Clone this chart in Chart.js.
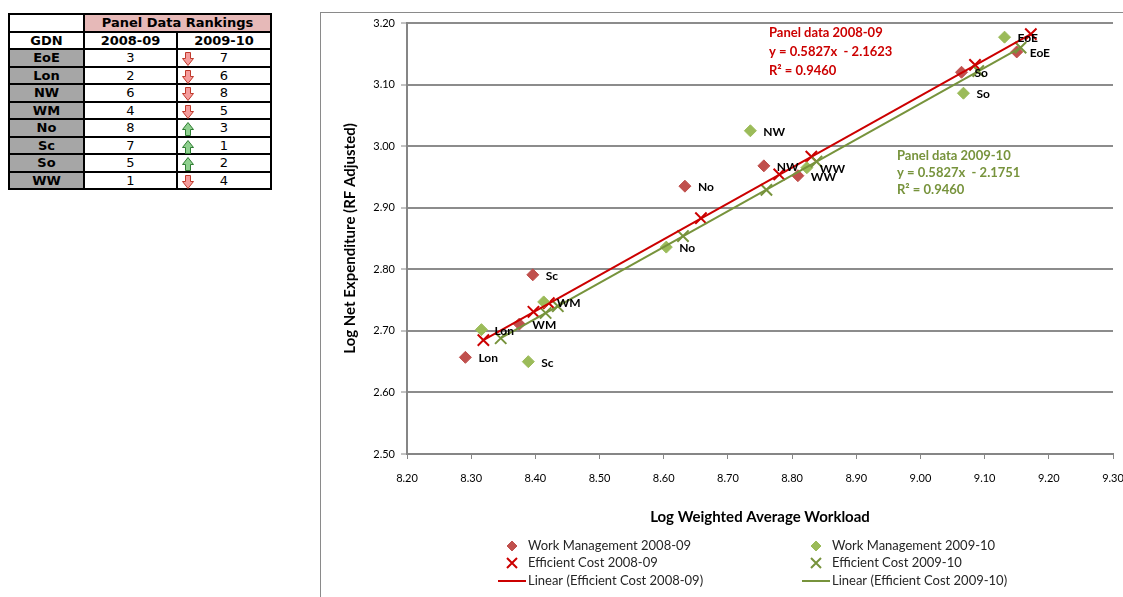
<!DOCTYPE html>
<html>
<head>
<meta charset="utf-8">
<script src="https://cdn.jsdelivr.net/npm/chart.js@4.4.1/dist/chart.umd.min.js"></script>
<style>
  html, body { margin: 0; padding: 0; background: #fff; width: 1123px; height: 597px; overflow: hidden; position: relative; }
  #rank { position: absolute; left: 8px; top: 13px; border-collapse: collapse; table-layout: fixed;
          font-family: 'DejaVu Sans', Verdana, sans-serif; font-size: 13px; color: #000; }
  #rank td { border: 2px solid #000; padding: 0; height: 15.5px; line-height: 15px; text-align: center; position: relative; }
  #rank td.blank { background: #fff; }
  #rank td.title { background: #e6b9b8; font-weight: bold; }
  #rank td.head { font-weight: bold; }
  #rank td.gdn { background: #a6a6a6; font-weight: bold; }
  #rank td.r2 { border-left-width: 1px; }
  #rank td svg { position: absolute; left: 4px; top: 2px; }
  #frame { position: absolute; left: 320px; top: 12px; width: 830px; height: 620px;
           border-left: 1px solid #8a8a8a; border-top: 1px solid #8a8a8a; }
  #chart { position: absolute; left: 321px; top: 13px; }
</style>
</head>
<body>
<table id="rank">
  <colgroup><col style="width:75px"><col style="width:93px"><col style="width:94px"></colgroup>
  <tbody id="rankBody"></tbody>
</table>
<div id="frame"></div>
<canvas id="chart" width="830" height="584"></canvas>
<script>
// ---- Ranking table ----
const gdn = ['EoE', 'Lon', 'NW', 'WM', 'No', 'Sc', 'So', 'WW'];
const rank0809 = [3, 2, 6, 4, 8, 7, 5, 1];
const rank0910 = [7, 6, 8, 5, 3, 1, 2, 4];

// ---- Work Management (diamonds) ----
const wm0809X = [9.150, 8.291, 8.756, 8.375, 8.633, 8.396, 9.064, 8.809];
const wm0809Y = [3.153, 2.657, 2.968, 2.711, 2.935, 2.791, 3.120, 2.952];
const wm0910X = [9.131, 8.316, 8.735, 8.413, 8.604, 8.389, 9.067, 8.823];
const wm0910Y = [3.177, 2.702, 3.025, 2.747, 2.836, 2.650, 3.086, 2.965];

// ---- Efficient Cost (crosses) ----
const ec0809X = [9.172, 8.319, 8.780, 8.397, 8.658, 8.421, 9.085, 8.830];
const ec0809Y = [3.182, 2.685, 2.954, 2.731, 2.883, 2.745, 3.132, 2.983];
const ec0910X = [9.156, 8.346, 8.760, 8.416, 8.630, 8.435, 9.090, 8.838];
const ec0910Y = [3.160, 2.688, 2.929, 2.729, 2.854, 2.740, 3.122, 2.975];

// ---- Linear trend lines (end points) ----
const trend0809X = [8.319, 9.172];
const trend0809Y = [2.685, 3.182];
const trend0910X = [8.346, 9.156];
const trend0910Y = [2.688, 3.160];

// ---- Trend equations ----
const eq0809 = ['Panel data 2008-09', 'y = 0.5827x  - 2.1623', 'R\u00B2 = 0.9460'];
const eq0910 = ['Panel data 2009-10', 'y = 0.5827x  - 2.1751', 'R\u00B2 = 0.9460'];

// ---- Axis ranges ----
const xRange = [8.2, 9.3];
const yRange = [2.5, 3.2];
const tickStep = 0.1;

const RED = '#c0504d', RED_DARK = '#cc0000';
const GREEN = '#9bbb59', GREEN_DARK = '#77933c';

// build the ranking table
(function () {
  const down = '<svg width="12" height="14" viewBox="0 0 12 14"><polygon points="3.5,0.5 8.5,0.5 8.5,6.5 11.5,6.5 6,13.5 0.5,6.5 3.5,6.5" fill="#f59c9c" stroke="#c0392b" stroke-width="1"/></svg>';
  const up = '<svg width="12" height="14" viewBox="0 0 12 14"><polygon points="3.5,13.5 8.5,13.5 8.5,7.5 11.5,7.5 6,0.5 0.5,7.5 3.5,7.5" fill="#8fd08f" stroke="#2f7d32" stroke-width="1"/></svg>';
  let html = '<tr><td class="blank"></td><td class="title" colspan="2">Panel Data Rankings</td></tr>';
  html += '<tr><td class="head">GDN</td><td class="head">2008-09</td><td class="head r2">2009-10</td></tr>';
  gdn.forEach((g, i) => {
    const arrow = rank0910[i] > rank0809[i] ? down : up;
    html += '<tr><td class="gdn">' + g + '</td><td>' + rank0809[i] + '</td><td class="r2">' + arrow + rank0910[i] + '</td></tr>';
  });
  document.getElementById('rankBody').innerHTML = html;
})();

const toPoints = (xs, ys) => xs.map((x, i) => ({ x: x, y: ys[i] }));

// GDN names beside the Work Management markers
const gdnLabelPlugin = {
  id: 'gdnLabels',
  afterDatasetsDraw(chart) {
    const ctx = chart.ctx;
    ctx.save();
    ctx.font = 'bold 12px Lato, sans-serif';
    ctx.fillStyle = '#000';
    ctx.textAlign = 'left';
    ctx.textBaseline = 'middle';
    chart.data.datasets.forEach((ds, di) => {
      if (!ds.pointNames) return;
      chart.getDatasetMeta(di).data.forEach((el, i) => {
        ctx.fillText(ds.pointNames[i], el.x + 13, el.y + 1);
      });
    });
    ctx.restore();
  }
};

// trend equation boxes
const equationPlugin = {
  id: 'equations',
  afterDatasetsDraw(chart) {
    const ctx = chart.ctx;
    const a = chart.chartArea;
    ctx.save();
    ctx.font = 'bold 13px Lato, sans-serif';
    ctx.textAlign = 'left';
    ctx.textBaseline = 'middle';
    ctx.fillStyle = RED_DARK;
    eq0809.forEach((t, i) => ctx.fillText(t, a.left + 362, a.top + 10 + i * 19));
    ctx.fillStyle = GREEN_DARK;
    eq0910.forEach((t, i) => ctx.fillText(t, a.left + 490, a.top + 133 + i * 17));
    ctx.restore();
  }
};

// two-column legend under the plot
const legendPlugin = {
  id: 'twoColLegend',
  afterDraw(chart) {
    const ctx = chart.ctx;
    const cols = [[0, 1, 4], [2, 3, 5]];
    const colX = [191, 495];
    const rowY = [533, 550, 568];
    ctx.save();
    ctx.font = '13px Lato, sans-serif';
    ctx.textBaseline = 'middle';
    ctx.textAlign = 'left';
    cols.forEach((list, c) => {
      list.forEach((di, r) => {
        const ds = chart.data.datasets[di];
        const cx = colX[c], cy = rowY[r];
        ctx.strokeStyle = ds.borderColor;
        ctx.fillStyle = ds.backgroundColor;
        if (ds.showLine) {
          ctx.lineWidth = 2;
          ctx.beginPath();
          ctx.moveTo(cx - 14, cy);
          ctx.lineTo(cx + 14, cy);
          ctx.stroke();
        } else if (ds.pointStyle === 'rectRot') {
          ctx.lineWidth = 1;
          ctx.beginPath();
          ctx.moveTo(cx - 5, cy); ctx.lineTo(cx, cy - 5); ctx.lineTo(cx + 5, cy); ctx.lineTo(cx, cy + 5);
          ctx.closePath();
          ctx.fill(); ctx.stroke();
        } else {
          ctx.lineWidth = 2;
          ctx.beginPath();
          ctx.moveTo(cx - 5, cy - 5); ctx.lineTo(cx + 5, cy + 5);
          ctx.moveTo(cx + 5, cy - 5); ctx.lineTo(cx - 5, cy + 5);
          ctx.stroke();
        }
        ctx.fillStyle = '#262626';
        ctx.fillText(ds.label, cx + 16, cy);
      });
    });
    ctx.restore();
  }
};

new Chart(document.getElementById('chart'), {
  type: 'scatter',
  data: {
    datasets: [
      { label: 'Work Management 2008-09', data: toPoints(wm0809X, wm0809Y), pointNames: gdn,
        pointStyle: 'rectRot', pointRadius: 6, borderWidth: 1, backgroundColor: RED, borderColor: RED, order: 6 },
      { label: 'Efficient Cost 2008-09', data: toPoints(ec0809X, ec0809Y),
        pointStyle: 'crossRot', pointRadius: 8, borderWidth: 2, backgroundColor: RED_DARK, borderColor: RED_DARK, order: 5 },
      { label: 'Work Management 2009-10', data: toPoints(wm0910X, wm0910Y), pointNames: gdn,
        pointStyle: 'rectRot', pointRadius: 6, borderWidth: 1, backgroundColor: GREEN, borderColor: GREEN, order: 4 },
      { label: 'Efficient Cost 2009-10', data: toPoints(ec0910X, ec0910Y),
        pointStyle: 'crossRot', pointRadius: 8, borderWidth: 2, backgroundColor: GREEN_DARK, borderColor: GREEN_DARK, order: 3 },
      { label: 'Linear (Efficient Cost 2008-09)', data: toPoints(trend0809X, trend0809Y), showLine: true,
        pointRadius: 0, borderWidth: 2, borderColor: RED_DARK, backgroundColor: RED_DARK, order: 2 },
      { label: 'Linear (Efficient Cost 2009-10)', data: toPoints(trend0910X, trend0910Y), showLine: true,
        pointRadius: 0, borderWidth: 2, borderColor: GREEN_DARK, backgroundColor: GREEN_DARK, order: 1 }
    ]
  },
  options: {
    responsive: false,
    animation: false,
    layout: { padding: { left: 0, top: 7, right: 38, bottom: 0 } },
    plugins: { legend: { display: false }, tooltip: { enabled: false } },
    scales: {
      x: {
        type: 'linear', min: xRange[0], max: xRange[1],
        ticks: { stepSize: tickStep, callback: v => v.toFixed(2), color: '#000',
                 font: { family: 'Lato', size: 11 }, padding: 13, maxRotation: 0, autoSkip: false },
        grid: { drawOnChartArea: false, drawTicks: true, tickLength: 5, color: '#868686', lineWidth: 1 },
        border: { color: '#868686', width: 2 },
        title: { display: true, text: 'Log Weighted Average Workload', color: '#000',
                 font: { family: 'Lato', size: 15, weight: 'bold' }, padding: { top: 0, bottom: 71 } },
        afterFit: s => { s.height = 143; s.paddingLeft = 0; s.paddingRight = 0; }
      },
      y: {
        type: 'linear', min: yRange[0], max: yRange[1],
        ticks: { stepSize: tickStep, callback: v => v.toFixed(2), color: '#000',
                 font: { family: 'Lato', size: 11 }, padding: 6 },
        grid: { color: '#8c8c8c', lineWidth: 2, tickLength: 6, tickColor: '#868686', tickWidth: 1 },
        border: { color: '#868686', width: 2 },
        title: { display: true, text: 'Log Net Expenditure (RF Adjusted)', color: '#000',
                 font: { family: 'Lato', size: 15, weight: 'bold' }, padding: { top: 20, bottom: 0 } },
        afterFit: s => { s.width = 86; s.paddingTop = 0; s.paddingBottom = 0; }
      }
    }
  },
  plugins: [gdnLabelPlugin, equationPlugin, legendPlugin]
});
</script>
</body>
</html>
